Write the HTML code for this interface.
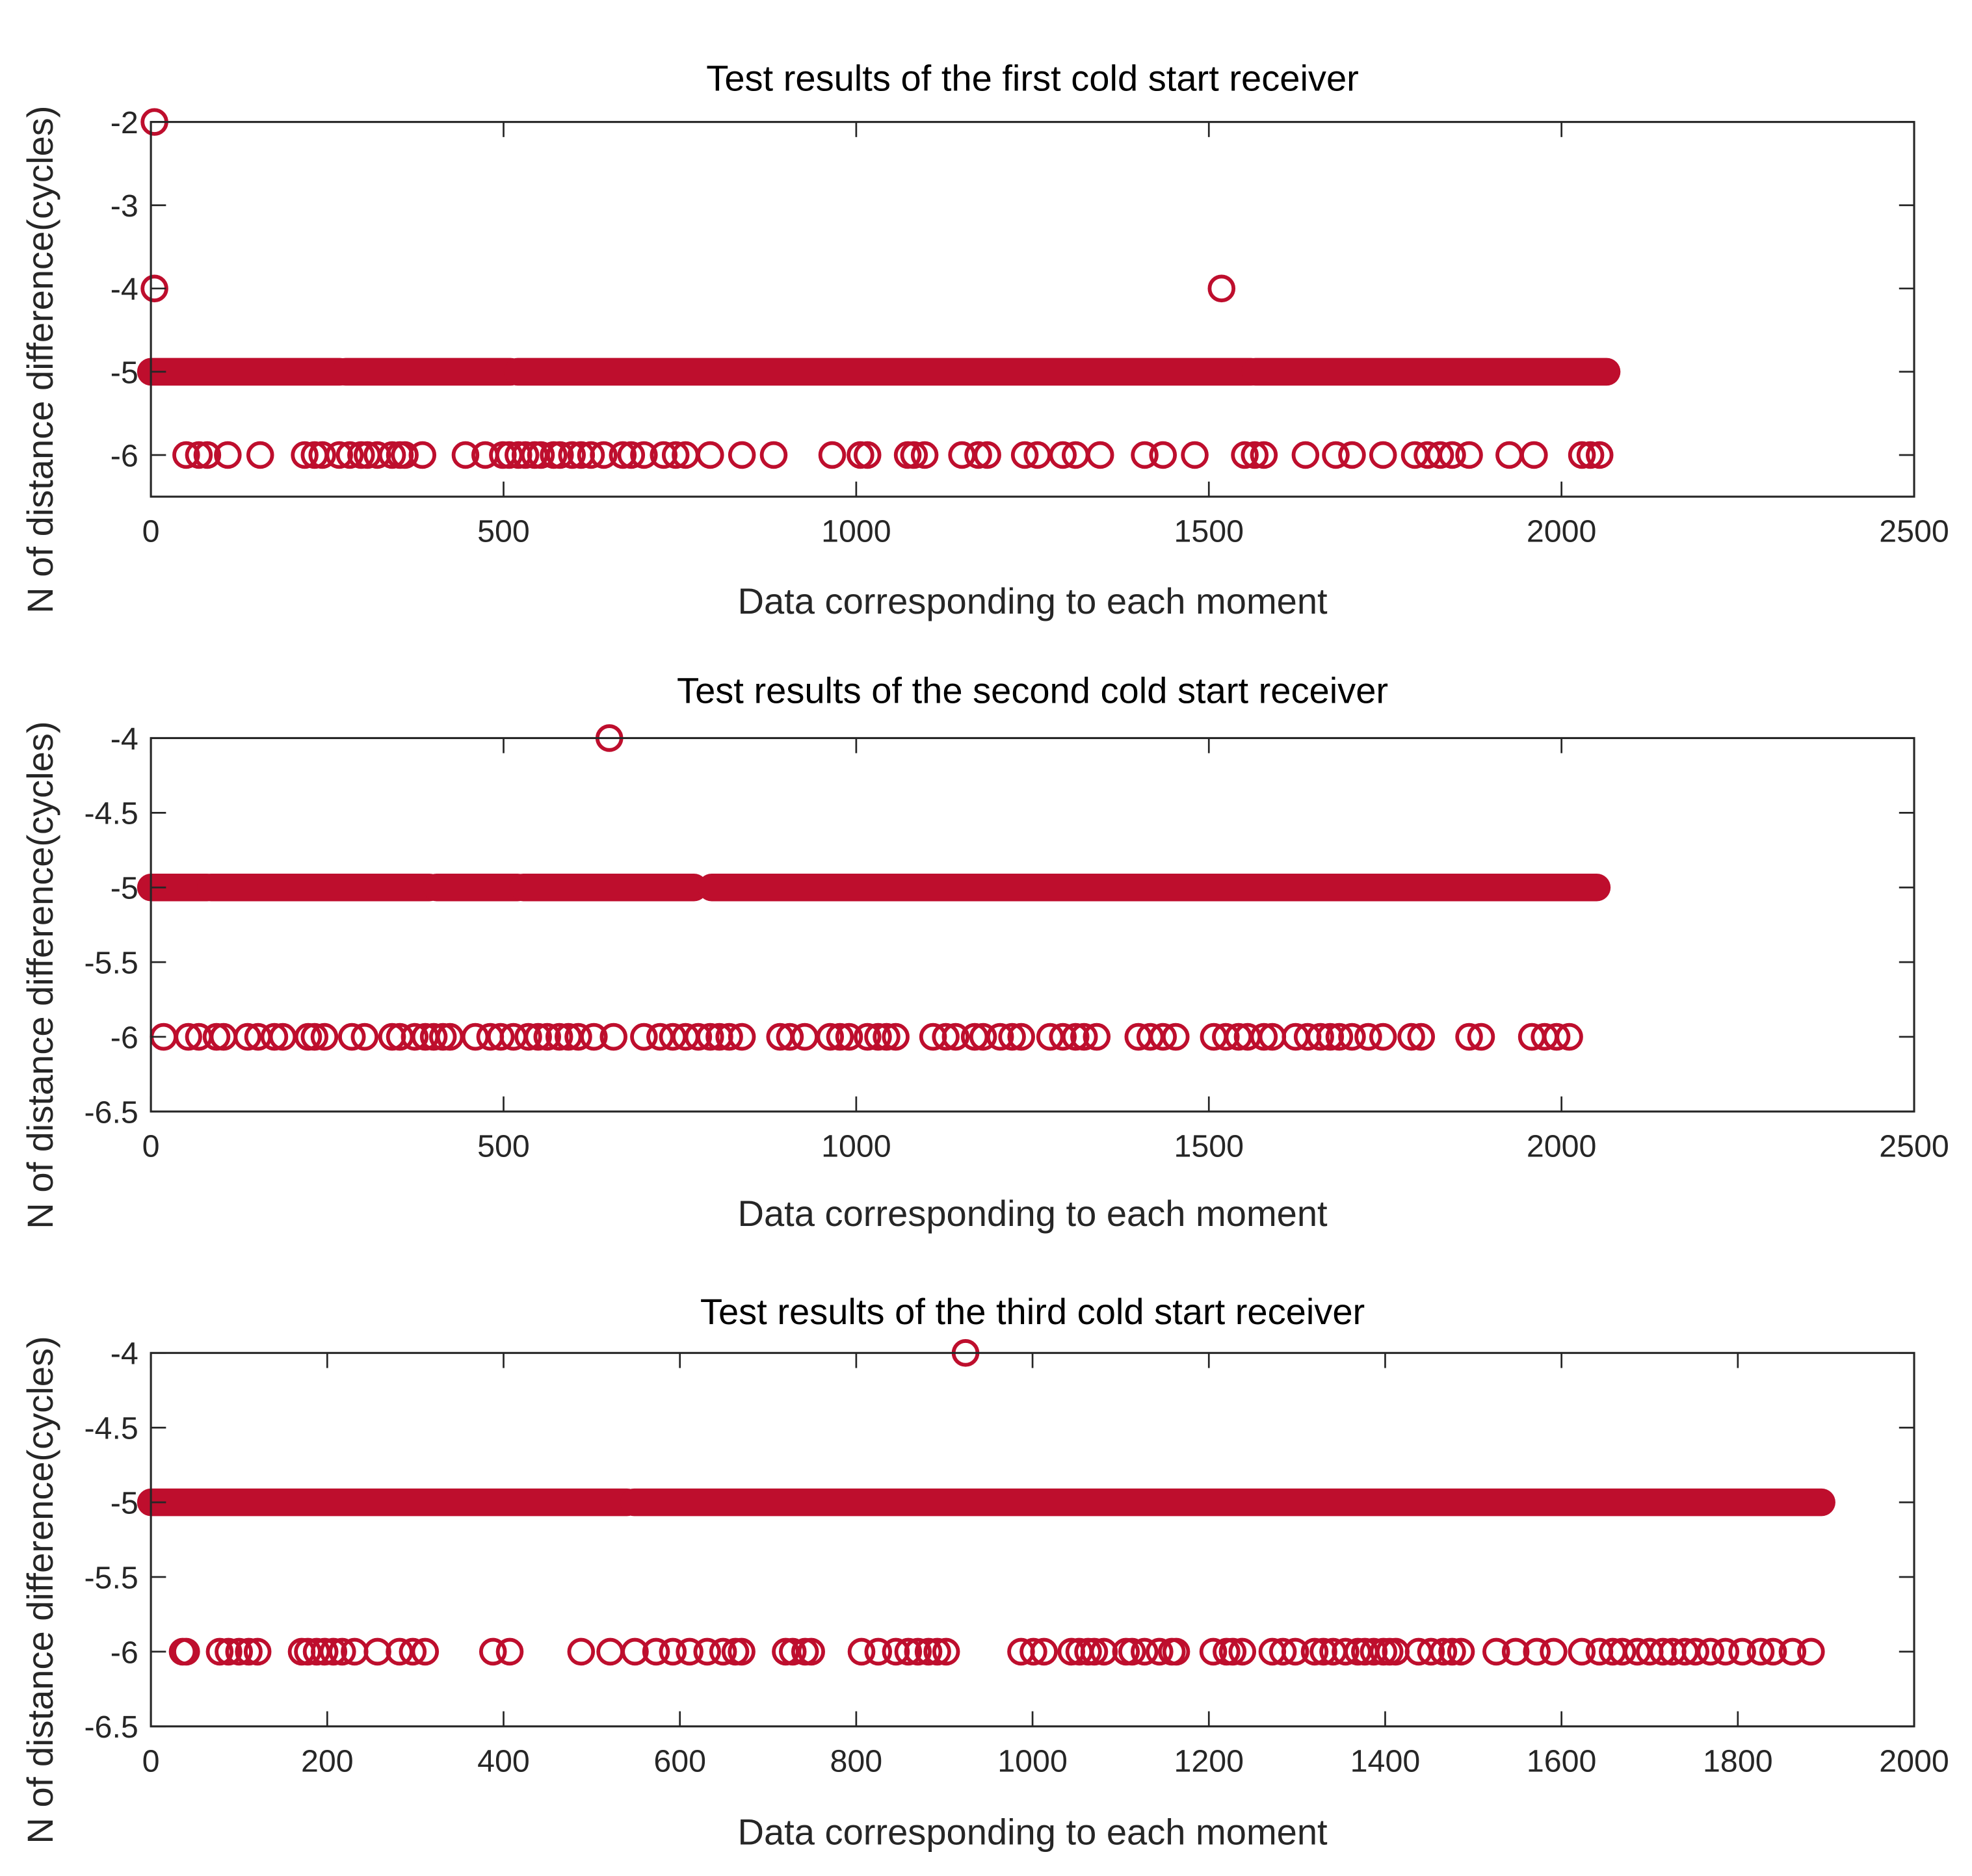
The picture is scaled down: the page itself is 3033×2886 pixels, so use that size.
<!DOCTYPE html>
<html><head><meta charset="utf-8"><style>
html,body{margin:0;padding:0;background:#fff;}
svg{display:block;}
text{font-family:"Liberation Sans",Arial,sans-serif;}
</style></head><body>
<svg id="fig" width="3033" height="2886" viewBox="0 0 1568 1492" xmlns="http://www.w3.org/2000/svg"></svg>
<script>
// ---- Data ----
const p1Run5Start = [0,276,520,1566];
const p1Run5End = [268,510,1560,2064];
const p1Row6 = [50,68,80,109,155,218,232,243,267,282,298,307,321,342,353,360,385,446,474,499,508,521,531,544,553,571,580,597,610,624,642,669,681,699,727,744,758,793,838,883,966,1006,1016,1073,1082,1097,1150,1173,1186,1239,1257,1293,1311,1346,1409,1435,1480,1551,1565,1578,1637,1680,1703,1747,1792,1810,1828,1845,1869,1926,1961,2029,2041,2054];
const p1OutX = [5,5,1518];
const p1OutY = [-2,-4,-4];

const p2Run5Start = [0,85,405,528,795];
const p2Run5End = [80,395,520,770,2050];
const p2Row6 = [18,53,68,93,103,137,152,175,187,223,232,246,285,303,342,353,374,389,401,414,424,460,481,496,514,535,549,562,579,592,606,628,656,699,722,740,758,776,793,806,820,838,892,906,927,963,977,990,1016,1031,1043,1056,1109,1127,1141,1168,1180,1204,1221,1234,1275,1293,1311,1323,1341,1400,1417,1435,1453,1507,1524,1542,1555,1578,1590,1623,1640,1658,1672,1685,1703,1726,1747,1787,1801,1869,1886,1958,1976,1993,2011];
const p2OutX = [650];
const p2OutY = [-4];

const p3Run5Start = [0,548];
const p3Run5End = [540,1895];
const p3Row6 = [36,40,78,88,100,111,121,171,178,188,197,207,217,231,257,282,297,311,388,407,488,521,549,573,592,611,631,649,663,670,720,728,742,749,806,825,845,859,870,882,892,902,987,1001,1013,1044,1053,1063,1070,1081,1106,1113,1127,1144,1158,1163,1205,1220,1227,1238,1272,1284,1298,1320,1330,1341,1355,1369,1377,1387,1398,1405,1412,1438,1452,1466,1476,1486,1526,1548,1572,1591,1623,1643,1658,1669,1686,1700,1715,1726,1740,1752,1769,1786,1805,1826,1840,1862,1883];
const p3OutX = [924];
const p3OutY = [-4];

const xTicks12 = [0,500,1000,1500,2000,2500];
const xTicks3 = [0,200,400,600,800,1000,1200,1400,1600,1800,2000];
const yTicks1 = [-2,-3,-4,-5,-6];
const yTicks23 = [-4,-4.5,-5,-5.5,-6,-6.5];
const titles = ["Test results of the first cold start receiver","Test results of the second cold start receiver","Test results of the third cold start receiver"];

// ---- Drawing ----
const NS = "http://www.w3.org/2000/svg";
const svg = document.getElementById('fig');
const RED = "#be0e2d";
const MR = 9.5, SW = 3;
function mk(tag, attrs, parent){
  const e = document.createElementNS(NS, tag);
  for (const k in attrs) e.setAttribute(k, attrs[k]);
  (parent||svg).appendChild(e);
  return e;
}
const L = 120, R = 1522;
const panels = [
  {top:97, bot:395, xmax:2500, ymin:-6.5, ymax:-2, xt:xTicks12, yt:yTicks1, rs:p1Run5Start, re:p1Run5End, r6:p1Row6, ox:p1OutX, oy:p1OutY, titleY:72, xlabY:488},
  {top:587, bot:884, xmax:2500, ymin:-6.5, ymax:-4, xt:xTicks12, yt:yTicks23, rs:p2Run5Start, re:p2Run5End, r6:p2Row6, ox:p2OutX, oy:p2OutY, titleY:559, xlabY:975},
  {top:1076, bot:1373, xmax:2000, ymin:-6.5, ymax:-4, xt:xTicks3, yt:yTicks23, rs:p3Run5Start, re:p3Run5End, r6:p3Row6, ox:p3OutX, oy:p3OutY, titleY:1053, xlabY:1467}
];
panels.forEach((p, i) => {
  const g = mk('g', {});
  
  
  const xs = v => L + (v / p.xmax) * (R - L);
  const ys = v => p.bot - (v - p.ymin) / (p.ymax - p.ymin) * (p.bot - p.top);
  const mg = mk('g', {fill:'none', stroke:RED, 'stroke-width':SW}, g);
  
  
  const half = MR + SW/2;
  p.rs.forEach((s, k) => {
    const x0 = xs(s) - half, x1 = xs(p.re[k]) + half;
    const b = mk('rect', {x:x0, y:ys(-5)-half, width:x1-x0, height:2*half, rx:half, ry:half, fill:RED, stroke:'none'}, mg);
    
    
  });
  p.r6.forEach(x => {
    const c = mk('circle', {cx:xs(x), cy:ys(-6), r:MR}, mg);
    
    
  });
  p.ox.forEach((x, k) => {
    const c = mk('circle', {cx:xs(x), cy:ys(p.oy[k]), r:MR}, mg);
    
    
  });
  const box = mk('rect', {x:L, y:p.top, width:R-L, height:p.bot-p.top, fill:'none', stroke:'#262626', 'stroke-width':1.6}, g);
  
  
  p.xt.forEach(v => {
    const x = xs(v);
    mk('line', {x1:x, x2:x, y1:p.bot, y2:p.bot-12, stroke:'#262626', 'stroke-width':1.4}, g);
    mk('line', {x1:x, x2:x, y1:p.top, y2:p.top+12, stroke:'#262626', 'stroke-width':1.4}, g);
    const t = mk('text', {x:x, y:p.bot+36, 'text-anchor':'middle', 'font-size':25, fill:'#262626'}, g);
    
    
    t.textContent = String(v);
  });
  p.yt.forEach(v => {
    const y = ys(v);
    mk('line', {x1:L, x2:L+12, y1:y, y2:y, stroke:'#262626', 'stroke-width':1.4}, g);
    mk('line', {x1:R, x2:R-12, y1:y, y2:y, stroke:'#262626', 'stroke-width':1.4}, g);
    const t = mk('text', {x:L-10, y:y+9, 'text-anchor':'end', 'font-size':25, fill:'#262626'}, g);
    
    
    t.textContent = String(v);
  });
  const tt = mk('text', {x:(L+R)/2, y:p.titleY, 'text-anchor':'middle', 'font-size':29, fill:'#000'}, g);
  
  
  tt.textContent = titles[i];
  const xl = mk('text', {x:(L+R)/2, y:p.xlabY, 'text-anchor':'middle', 'font-size':29, fill:'#262626'}, g);
  
  
  xl.textContent = 'Data corresponding to each moment';
  const cy = (p.top + p.bot) / 2 + 40;
  const yl = mk('text', {x:0, y:0, transform:`translate(42,${cy}) rotate(-90)`, 'text-anchor':'middle', 'font-size':29, fill:'#262626'}, g);
  
  
  yl.textContent = 'N of distance difference(cycles)';
});
</script>
</body></html>
